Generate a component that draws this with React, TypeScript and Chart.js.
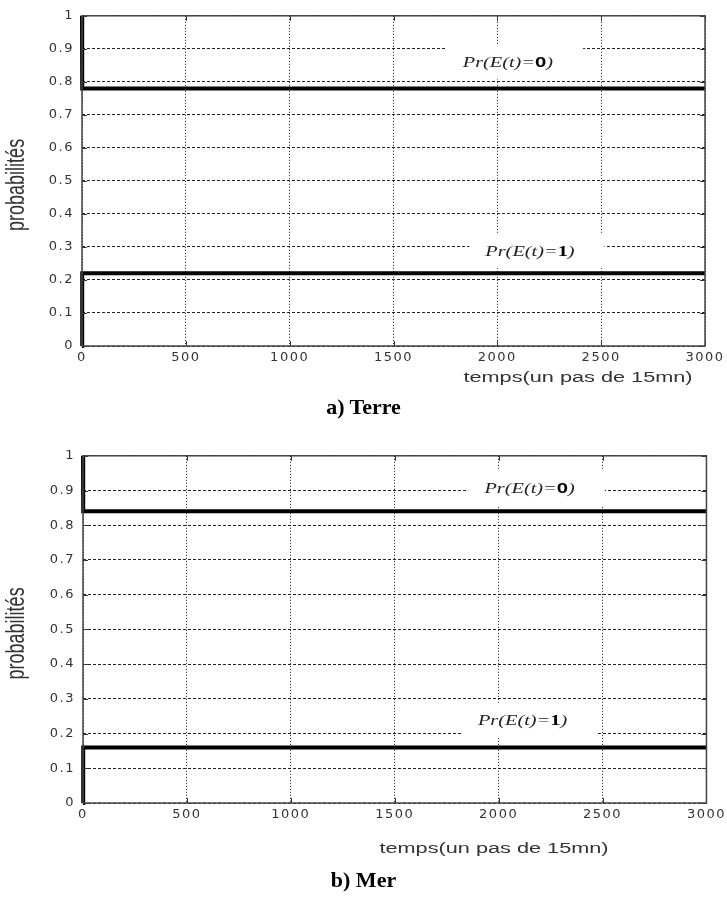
import React, { useEffect, useRef } from "react";
import { Chart, registerables } from "chart.js";

Chart.register(...registerables);

// ---- data ----
const timeSteps = [0, 1, 3000];
const terreProbE0 = [1, 0.78, 0.78];
const terreProbE1 = [0, 0.22, 0.22];
const merProbE0 = [1, 0.84, 0.84];
const merProbE1 = [0, 0.16, 0.16];

const xTickValues = [0, 500, 1000, 1500, 2000, 2500, 3000];
const yTickValues = [0, 0.1, 0.2, 0.3, 0.4, 0.5, 0.6, 0.7, 0.8, 0.9, 1];
const yTickLabels = ["0", "0.1", "0.2", "0.3", "0.4", "0.5", "0.6", "0.7", "0.8", "0.9", "1"];

const xAxisTitle = "temps(un pas de 15mn)";
const yAxisTitle = "probabilités";
const labelPrefix = "Pr(E(t)=";
const labelE0Value = "0";
const labelE1Value = "1";
const labelSuffix = ")";
const captionTerre = "a) Terre";
const captionMer = "b) Mer";

// ---- helpers ----
type Part = { text: string; font: string; color: string };

function measureParts(ctx: CanvasRenderingContext2D, parts: Part[]) {
  let total = 0;
  for (const p of parts) {
    ctx.font = p.font;
    total += ctx.measureText(p.text).width;
  }
  return total;
}

function drawStretched(
  ctx: CanvasRenderingContext2D,
  parts: Part[],
  x: number,
  y: number,
  sx: number,
  align: "left" | "center" | "right"
) {
  ctx.save();
  (ctx as any).letterSpacing = "0px";
  ctx.translate(x, y);
  ctx.scale(sx, 1);
  ctx.textBaseline = "middle";
  ctx.textAlign = "left";
  const total = measureParts(ctx, parts);
  let cur = align === "center" ? -total / 2 : align === "right" ? -total : 0;
  for (const p of parts) {
    ctx.font = p.font;
    ctx.fillStyle = p.color;
    ctx.fillText(p.text, cur, 0);
    cur += ctx.measureText(p.text).width;
  }
  ctx.restore();
}

const SERIF_IT = 'italic 14px "Liberation Serif"';
const TEXT_SX = 1.45;

type LabelDef = { x: number; y: number; valueText: string; valueFont: string };

type PanelProps = {
  height: number;
  area: { left: number; top: number; right: number; bottom: number };
  p0: number[];
  p1: number[];
  labels: LabelDef[];
  xTitle: { x: number; y: number };
};

function labelParts(l: LabelDef): Part[] {
  return [
    { text: labelPrefix, font: SERIF_IT, color: "#222" },
    { text: l.valueText, font: l.valueFont, color: "#000" },
    { text: labelSuffix, font: SERIF_IT, color: "#222" },
  ];
}

function Panel({ height, area, p0, p1, labels, xTitle }: PanelProps) {
  const ref = useRef<HTMLCanvasElement | null>(null);

  useEffect(() => {
    if (!ref.current) return;
    const width = 727;
    const xAxisH = 30;

    const deco = {
      id: "deco",
      beforeDraw(chart: any) {
        chart.ctx.letterSpacing = "1.5px";
      },
      beforeDatasetsDraw(chart: any) {
        const ctx: CanvasRenderingContext2D = chart.ctx;
        (ctx as any).letterSpacing = "0px";
        const xs = chart.scales.x;
        const ys = chart.scales.y;
        for (const l of labels) {
          const cx = xs.getPixelForValue(l.x);
          const cy = ys.getPixelForValue(l.y);
          ctx.save();
          const w = measureParts(ctx, labelParts(l)) * TEXT_SX;
          ctx.fillStyle = "#ffffff";
          ctx.fillRect(cx - w / 2 - 16, cy - 19, w + 46, 35);
          ctx.restore();
        }
      },
      afterDatasetsDraw(chart: any) {
        const ctx: CanvasRenderingContext2D = chart.ctx;
        (ctx as any).letterSpacing = "0px";
        const { left, top, right, bottom } = chart.chartArea;
        const xs = chart.scales.x;
        const ys = chart.scales.y;
        ctx.save();
        ctx.strokeStyle = "#333";
        ctx.lineWidth = 1;
        ctx.beginPath();
        for (const v of xTickValues) {
          const px = Math.round(xs.getPixelForValue(v)) + 0.5;
          ctx.moveTo(px, bottom);
          ctx.lineTo(px, bottom - 5);
          ctx.moveTo(px, top);
          ctx.lineTo(px, top + 5);
        }
        for (const v of yTickValues) {
          const py = Math.round(ys.getPixelForValue(v)) + 0.5;
          ctx.moveTo(left, py);
          ctx.lineTo(left + 5, py);
          ctx.moveTo(right, py);
          ctx.lineTo(right - 5, py);
        }
        ctx.stroke();
        ctx.strokeStyle = "#444";
        ctx.lineWidth = 1.5;
        ctx.strokeRect(left, top, right - left, bottom - top);
        ctx.restore();

        for (const l of labels) {
          const cx = xs.getPixelForValue(l.x);
          const cy = ys.getPixelForValue(l.y);
          drawStretched(ctx, labelParts(l), cx, cy, TEXT_SX, "center");
        }

        drawStretched(
          ctx,
          [{ text: xAxisTitle, font: '14px "Liberation Sans"', color: "#333" }],
          xTitle.x,
          xTitle.y,
          1.55,
          "center"
        );

        ctx.save();
        ctx.translate(17, (top + bottom) / 2 + 4);
        ctx.rotate(-Math.PI / 2);
        ctx.scale(1, 1.4);
        ctx.font = '18px "Liberation Sans"';
        ctx.fillStyle = "#333";
        ctx.textAlign = "center";
        ctx.textBaseline = "middle";
        ctx.fillText(yAxisTitle, 0, 0);
        ctx.restore();
      },
    };

    const chart = new Chart(ref.current, {
      type: "line",
      data: {
        datasets: [
          {
            label: "Pr(E(t)=0)",
            data: timeSteps.map((t, i) => ({ x: t, y: p0[i] })),
            borderColor: "#000",
            borderWidth: 4,
            pointRadius: 0,
            tension: 0,
            clip: false as any,
          },
          {
            label: "Pr(E(t)=1)",
            data: timeSteps.map((t, i) => ({ x: t, y: p1[i] })),
            borderColor: "#000",
            borderWidth: 4,
            pointRadius: 0,
            tension: 0,
            clip: false as any,
          },
        ],
      },
      options: {
        animation: false,
        responsive: false,
        devicePixelRatio: 1,
        layout: {
          padding: {
            left: 0,
            top: area.top,
            right: width - area.right,
            bottom: height - area.bottom - xAxisH,
          },
        },
        plugins: {
          legend: { display: false },
          tooltip: { enabled: false },
          title: { display: false },
        },
        scales: {
          x: {
            type: "linear",
            min: 0,
            max: 3000,
            afterBuildTicks: (s: any) => {
              s.ticks = xTickValues.map((v) => ({ value: v }));
            },
            afterFit: (s: any) => {
              s.height = xAxisH;
            },
            ticks: {
              autoSkip: false,
              maxRotation: 0,
              padding: 4,
              color: "#333",
              font: { family: '"DejaVu Sans"', size: 13 },
              callback: (v: any) => String(v),
            },
            grid: {
              color: "#111",
              lineWidth: 1,
              drawTicks: false,
            },
            border: { display: false, dash: [1, 2] },
          },
          y: {
            type: "linear",
            min: 0,
            max: 1,
            afterBuildTicks: (s: any) => {
              s.ticks = yTickValues.map((v) => ({ value: v }));
            },
            afterFit: (s: any) => {
              s.width = area.left;
            },
            ticks: {
              autoSkip: false,
              padding: 8,
              color: "#333",
              font: { family: '"DejaVu Sans"', size: 13 },
              callback: (v: any) => {
                const i = yTickValues.indexOf(v);
                return i >= 0 ? yTickLabels[i] : String(v);
              },
            },
            grid: {
              color: "#222",
              lineWidth: 1,
              drawTicks: false,
            },
            border: { display: false, dash: [3, 2] },
          },
        },
      },
      plugins: [deco],
    } as any);

    return () => chart.destroy();
  }, []);

  return (
    <canvas
      ref={ref}
      width={727}
      height={height}
      style={{ display: "block", width: 727, height }}
    />
  );
}

const captionStyle: React.CSSProperties = {
  position: "absolute",
  left: 0,
  width: 727,
  textAlign: "center",
  fontFamily: '"Liberation Serif", "Times New Roman", serif',
  fontWeight: "bold",
  fontSize: 22,
  lineHeight: "26px",
  color: "#000",
};

export default function App() {
  return (
    <div
      style={{
        position: "absolute",
        left: 0,
        top: 0,
        width: 727,
        height: 907,
        background: "#fff",
        overflow: "hidden",
      }}
    >
      <div style={{ position: "absolute", left: 0, top: 0 }}>
        <Panel
          height={440}
          area={{ left: 82, top: 13, right: 705, bottom: 346 }}
          p0={terreProbE0}
          p1={terreProbE1}
          labels={[
            { x: 2051, y: 0.856, valueText: labelE0Value, valueFont: 'bold 14px "Liberation Sans"' },
            { x: 2157, y: 0.285, valueText: labelE1Value, valueFont: 'bold 14px "Liberation Serif"' },
          ]}
          xTitle={{ x: 578, y: 378 }}
        />
      </div>
      <div style={{ ...captionStyle, top: 394 }}>{captionTerre}</div>
      <div style={{ position: "absolute", left: 0, top: 440 }}>
        <Panel
          height={467}
          area={{ left: 83, top: 13, right: 707, bottom: 363 }}
          p0={merProbE0}
          p1={merProbE1}
          labels={[
            { x: 2149, y: 0.903, valueText: labelE0Value, valueFont: 'bold 14px "Liberation Sans"' },
            { x: 2115, y: 0.234, valueText: labelE1Value, valueFont: 'bold 14px "Liberation Serif"' },
          ]}
          xTitle={{ x: 494, y: 409 }}
        />
      </div>
      <div style={{ ...captionStyle, top: 867 }}>{captionMer}</div>
    </div>
  );
}
